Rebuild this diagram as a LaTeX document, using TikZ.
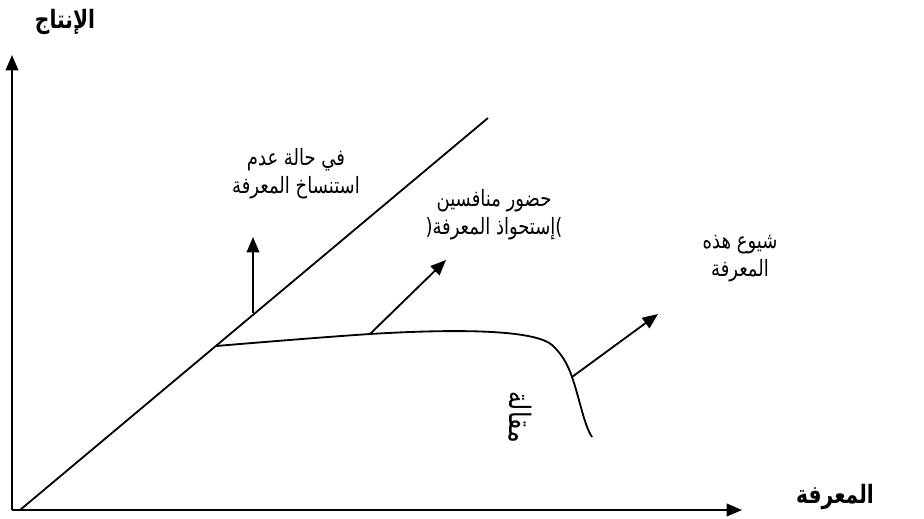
\documentclass[tikz,border=0pt]{standalone}
\usepackage{fontspec}
\newfontfamily\arabicfont[Script=Arabic,FakeStretch=0.8]{DejaVu Sans}
\TeXXeTstate=1
\usetikzlibrary{arrows.meta}
\tikzset{
  axis/.style={line width=1.4pt,-{Triangle[length=11pt,width=9pt]}},
  curve/.style={line width=1.3pt},
  push/.style={line width=1.3pt,-{Triangle[length=11pt,width=9pt]}},
  lab/.style={font=\arabicfont\fontsize{16}{20}\selectfont,align=center},
  axlab/.style={font=\arabicfont\bfseries\fontsize{18}{20}\selectfont},
}
\begin{document}
\begin{tikzpicture}[x=0.025cm,y=-0.025cm]
  \useasboundingbox (0,0) rectangle (924,518);
  % axes
  \coordinate (O) at (12,510);
  \coordinate (ytip) at (12,55);
  \coordinate (xtip) at (742,510);
  \draw[axis] (O) -- (ytip);
  \draw[axis] (O) -- (xtip);
  \node[axlab] (ylab) at (65,22) {\beginR الإنتاج\endR};
  \node[axlab] (xlab) at (835,497) {\beginR المعرفة\endR};
  % no copying: the straight line
  \coordinate (d0) at (20,510);
  \coordinate (d1) at (488,118);
  \draw[curve] (d0) -- (d1);
  \coordinate (p1) at (253,313);
  \coordinate (p1e) at (253,237);
  \draw[push] (p1) -- (p1e);
  \node[lab] (nocopy) at (296,174) {\beginR في حالة عدم\endR\\\beginR استنساخ المعرفة\endR};
  % competitors and spreading
  \draw[curve] (216,346) .. controls (300,339) and (340,336) .. (370,334)
    .. controls (420,331) and (530,326) .. (552,345)
    .. controls (562,354) and (568,365) .. (572,377)
    .. controls (580,400) and (584,425) .. (592,437);
  \coordinate (p2) at (370,334);
  \coordinate (p2e) at (446,260);
  \draw[push] (p2) -- (p2e);
  \node[lab] (rivals) at (494,215) {\beginR حضور منافسين\endR\\\beginR )إستحواذ المعرفة(\endR};
  \coordinate (p3) at (572,377);
  \coordinate (p3e) at (658,314);
  \draw[push] (p3) -- (p3e);
  \node[lab] (spread) at (740,259) {\beginR شيوع هذه\endR\\\beginR المعرفة\endR};
  \node[lab,font=\arabicfont\fontsize{21}{21}\selectfont,rotate=-90] (stamp) at (520,417) {\beginR مقالة\endR};
\end{tikzpicture}
\end{document}
